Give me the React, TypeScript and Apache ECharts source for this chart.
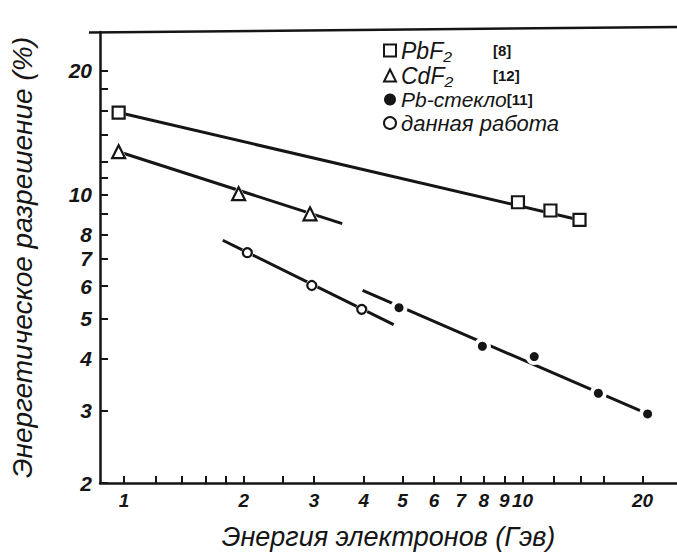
import React, { useEffect, useRef } from "react";
import * as echarts from "echarts";

// Energy (GeV) and energy resolution (%)
const seriesNames = ["PbF₂", "CdF₂", "Pb-стекло", "данная работа"];
const seriesRefs = ["[8]", "[12]", "[11]", ""];

const energyPbF2 = [0.97, 9.74, 11.75, 13.9];
const resPbF2 = [15.8, 9.58, 9.15, 8.68];
const fitPbF2E = [0.97, 13.9];
const fitPbF2R = [15.8, 8.68];

const energyCdF2 = [0.97, 1.94, 2.93];
const resCdF2 = [12.7, 10.05, 8.98];
const fitCdF2E = [0.97, 3.53];
const fitCdF2R = [12.7, 8.5];

const energyGlass = [4.9, 7.93, 10.7, 15.5, 20.6];
const resGlass = [5.32, 4.29, 4.05, 3.3, 2.94];
const fitGlassE = [3.97, 20.6];
const fitGlassR = [5.86, 2.94];

const energyThis = [2.04, 2.96, 3.95];
const resThis = [7.23, 6.02, 5.27];
const fitThisE = [1.77, 4.75];
const fitThisR = [7.75, 4.84];

const xTickValues = [1, 1.2, 1.4, 1.6, 1.8, 2, 2.5, 3, 4, 5, 6, 7, 8, 9, 10, 12, 14, 16, 20];
const xLabelValues = [1, 2, 3, 4, 5, 6, 7, 8, 9, 10, 20];
const yTickValues = [2, 3, 4, 5, 6, 7, 8, 9, 10, 11, 12, 14, 16, 18, 20];
const yLabelValues = [2, 3, 4, 5, 6, 7, 8, 10, 20];

const INK = "#151515";
const FONT = "'Liberation Sans', 'DejaVu Sans', sans-serif";

const pairs = (xs: number[], ys: number[]) => xs.map((x, i) => [x, ys[i]]);

export default function App() {
  const ref = useRef<HTMLDivElement>(null);
  useEffect(() => {
    if (!ref.current) return;
    const chart = echarts.init(ref.current, null, { renderer: "svg" });

    const fitLine = (name: string, xs: number[], ys: number[]) => ({
      name: name + "-fit",
      type: "line",
      data: pairs(xs, ys),
      showSymbol: false,
      symbol: "none",
      z: 2,
      silent: true,
      lineStyle: { color: INK, width: 3 },
    });
    const halo = (name: string, xs: number[], ys: number[], symbol: string, size: number) => ({
      name: name + "-halo",
      type: "scatter",
      data: pairs(xs, ys),
      symbol,
      symbolSize: size,
      z: 3,
      silent: true,
      itemStyle: { color: "#fff", borderWidth: 0, opacity: 1 },
    });
    const markers = (name: string, xs: number[], ys: number[], symbol: string, size: number, filled: boolean) => ({
      name,
      type: "scatter",
      data: pairs(xs, ys),
      symbol,
      symbolSize: size,
      z: 4,
      itemStyle: filled
        ? { color: INK, opacity: 1 }
        : { color: "#fff", borderColor: INK, borderWidth: 2.2, opacity: 1 },
    });

    chart.setOption({
      animation: false,
      backgroundColor: "#fff",
      grid: {
        left: 91,
        top: 32,
        right: -6,
        bottom: 70,
        show: false,
      },
      graphic: [
        {
          type: "line",
          shape: { x1: 89, y1: 32.5, x2: 680, y2: 27 },
          style: { stroke: INK, lineWidth: 2.5 },
          silent: true,
        },
      ],
      legend: {
        data: seriesNames,
        orient: "vertical",
        left: 378,
        top: 34,
        itemWidth: 12,
        itemHeight: 12,
        itemGap: 2,
        selectedMode: false,
        formatter: (name: string) => {
          const i = seriesNames.indexOf(name);
          const r = seriesRefs[i];
          if (i === 2) return `{c|${name}}{b|${r}}`;
          return r ? `{a|${name}}{b|${r}}` : `{d|${name}}`;
        },
        textStyle: {
          color: INK,
          fontFamily: FONT,
          rich: {
            a: { fontSize: 23, fontStyle: "italic", fontFamily: FONT, color: INK, lineHeight: 22, width: 92 },
            b: { fontSize: 15, fontWeight: "bold", fontFamily: FONT, color: INK, lineHeight: 22 },
            c: { fontSize: 21, fontStyle: "italic", fontFamily: FONT, color: INK, lineHeight: 20 },
            d: { fontSize: 22, fontStyle: "italic", fontFamily: FONT, color: INK, lineHeight: 24 },
          },
        },
      },
      xAxis: {
        type: "log",
        logBase: 10,
        min: 0.871,
        max: 24.41,
        name: "Энергия электронов (Гэв)",
        nameLocation: "middle",
        nameGap: 40,
        nameTextStyle: { fontSize: 27, fontStyle: "italic", fontFamily: FONT, color: INK },
        axisLine: { show: true, lineStyle: { color: INK, width: 2.5 } },
        axisTick: { show: true, inside: true, length: 7, lineStyle: { color: INK, width: 2 }, customValues: xTickValues },
        minorTick: { show: false },
        splitLine: { show: false },
        axisLabel: {
          customValues: xLabelValues,
          margin: 8,
          fontSize: 19,
          fontStyle: "italic",
          fontWeight: "bold",
          fontFamily: FONT,
          color: INK,
          hideOverlap: false,
          formatter: (v: number) => String(Math.round(v * 10) / 10),
        },
      },
      yAxis: {
        type: "log",
        logBase: 10,
        min: 2,
        max: 24.77,
        name: "Энергетическое разрешение (%)",
        nameLocation: "middle",
        nameGap: 64,
        nameRotate: 90,
        nameTextStyle: { fontSize: 28, fontStyle: "italic", fontFamily: FONT, color: INK },
        axisLine: { show: true, lineStyle: { color: INK, width: 2.5 } },
        axisTick: { show: true, inside: true, length: 8, lineStyle: { color: INK, width: 2 }, customValues: yTickValues },
        minorTick: { show: false },
        splitLine: { show: false },
        axisLabel: {
          customValues: yLabelValues,
          margin: 8,
          fontSize: 21,
          fontStyle: "italic",
          fontWeight: "bold",
          fontFamily: FONT,
          color: INK,
          hideOverlap: false,
          formatter: (v: number) => String(Math.round(v * 10) / 10),
        },
      },
      series: [
        fitLine(seriesNames[0], fitPbF2E, fitPbF2R),
        fitLine(seriesNames[1], fitCdF2E, fitCdF2R),
        fitLine(seriesNames[2], fitGlassE, fitGlassR),
        fitLine(seriesNames[3], fitThisE, fitThisR),
        halo(seriesNames[0], energyPbF2, resPbF2, "rect", 14),
        halo(seriesNames[1], energyCdF2, resCdF2, "triangle", 20),
        halo(seriesNames[2], energyGlass, resGlass, "circle", 17),
        halo(seriesNames[3], energyThis, resThis, "circle", 12),
        markers(seriesNames[0], energyPbF2, resPbF2, "rect", 12, false),
        markers(seriesNames[1], energyCdF2, resCdF2, "triangle", 13, false),
        markers(seriesNames[2], energyGlass, resGlass, "circle", 9, true),
        markers(seriesNames[3], energyThis, resThis, "circle", 9, false),
      ],
    });
    return () => chart.dispose();
  }, []);

  return (
    <div
      ref={ref}
      style={{ position: "absolute", left: 0, top: 0, width: 677, height: 555, background: "#fff" }}
    />
  );
}
